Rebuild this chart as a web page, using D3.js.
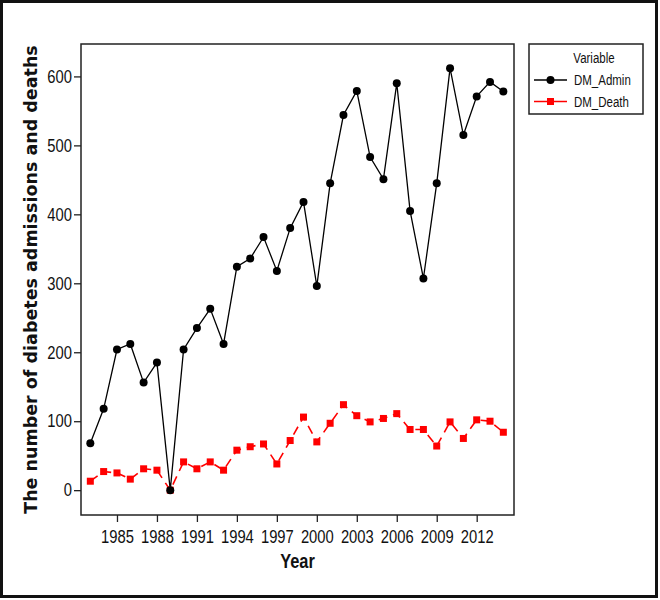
<!DOCTYPE html>
<html>
<head>
<meta charset="utf-8">
<script src="https://cdn.jsdelivr.net/npm/d3@7"></script>
<style>
  html, body { margin: 0; padding: 0; background: #fff; }
  text { fill: #111; }
</style>
</head>
<body>
<div id="chart"></div>
<script>
const WIDTH = 660
const HEIGHT = 600
const ADMIN_COLOR = '#000000'
const DEATH_COLOR = '#ff0000'
const FRAME_COLOR = '#222222'
const SANS = '"Liberation Sans", Arial, sans-serif'
const NARROW_RATIO = 0.82

// data
const YEARS = d3.range(1983, 2015)
const DM_ADMIN = [68, 118, 204, 212, 156, 185, 0, 204, 235, 263, 212, 324, 336, 367, 318, 380, 418, 296, 445,
  544, 579, 483, 451, 590, 405, 307, 445, 612, 515, 571, 592, 578]
const DM_DEATH = [13, 27, 25, 16, 31, 29, 0, 41, 31, 41, 29, 58, 63, 67, 38, 72, 106, 70, 97,
  124, 108, 99, 104, 111, 88, 88, 64, 99, 75, 102, 100, 84]
const X_TICKS = [1985, 1988, 1991, 1994, 1997, 2000, 2003, 2006, 2009, 2012]
const Y_TICKS = [0, 100, 200, 300, 400, 500, 600]
const SERIES_NAMES = ['DM_Admin', 'DM_Death']

var plot = {left: 81, top: 44, right: 514, bottom: 515}

var svg = d3.select('#chart').append('svg')
  .attr('width', WIDTH).attr('height', HEIGHT)

// squeeze text like a narrow face (no narrow font installed)
function narrow(selection, size) {
  selection
    .attr('font-family', SANS)
    .attr('font-size', size)
    .each(function() {
      var len = this.getComputedTextLength()
      d3.select(this)
        .attr('textLength', len * NARROW_RATIO)
        .attr('lengthAdjust', 'spacingAndGlyphs')
    })
}

var x = d3.scaleLinear().domain([1982.3, 2014.8]).range([plot.left, plot.right])
var y = d3.scaleLinear().domain([-36, 647]).range([plot.bottom, plot.top])

// outer frame of the picture
svg.append('rect')
  .attr('x', 1.5).attr('y', 1.5)
  .attr('width', WIDTH - 5).attr('height', HEIGHT - 5)
  .attr('fill', 'none').attr('stroke', '#111').attr('stroke-width', 3)

// axes
var xAxis = d3.axisBottom(x).tickValues(X_TICKS).tickFormat(d3.format('d')).tickSize(7).tickPadding(8)
var xAxisEl = svg.append('g').attr('transform', `translate(0, ${plot.bottom})`).call(xAxis)
xAxisEl.select('.domain').remove()
xAxisEl.selectAll('.tick text').call(narrow, 18)
xAxisEl.selectAll('.tick line').attr('stroke', FRAME_COLOR).attr('stroke-width', 1.3)

var yAxis = d3.axisLeft(y).tickValues(Y_TICKS).tickSize(7).tickPadding(2)
var yAxisEl = svg.append('g').attr('transform', `translate(${plot.left}, 0)`).call(yAxis)
yAxisEl.select('.domain').remove()
yAxisEl.selectAll('.tick text').call(narrow, 18)
yAxisEl.selectAll('.tick line').attr('stroke', FRAME_COLOR).attr('stroke-width', 1.3)

// plot box
svg.append('rect')
  .attr('x', plot.left).attr('y', plot.top)
  .attr('width', plot.right - plot.left).attr('height', plot.bottom - plot.top)
  .attr('fill', 'none').attr('stroke', FRAME_COLOR).attr('stroke-width', 1.5)

// axis titles
svg.append('text')
  .attr('transform', `translate(37, ${(plot.top + plot.bottom) / 2}) rotate(-90)`)
  .attr('text-anchor', 'middle')
  .attr('font-family', '"DejaVu Sans", sans-serif')
  .attr('font-weight', 'bold')
  .attr('font-size', 17.5)
  .text('The number of diabetes admissions and deaths')

svg.append('text')
  .attr('x', (plot.left + plot.right) / 2)
  .attr('y', 568)
  .attr('text-anchor', 'middle')
  .attr('font-weight', 'bold')
  .text('Year')
  .call(narrow, 20)

// lines
var line = d3.line()
  .x((d, i) => x(YEARS[i]))
  .y(d => y(d))

svg.append('path')
  .datum(DM_DEATH)
  .attr('d', line)
  .attr('fill', 'none')
  .attr('stroke', DEATH_COLOR)
  .attr('stroke-width', 1.6)
  .attr('stroke-dasharray', '9,6')

svg.append('path')
  .datum(DM_ADMIN)
  .attr('d', line)
  .attr('fill', 'none')
  .attr('stroke', ADMIN_COLOR)
  .attr('stroke-width', 1.3)

// markers
svg.append('g').selectAll('rect')
  .data(DM_DEATH)
  .join('rect')
  .attr('x', (d, i) => x(YEARS[i]) - 3.5)
  .attr('y', d => y(d) - 3.5)
  .attr('width', 7).attr('height', 7)
  .attr('fill', DEATH_COLOR)

svg.append('g').selectAll('circle')
  .data(DM_ADMIN)
  .join('circle')
  .attr('cx', (d, i) => x(YEARS[i]))
  .attr('cy', d => y(d))
  .attr('r', 4)
  .attr('fill', ADMIN_COLOR)

// legend
var legend = svg.append('g')
legend.append('rect')
  .attr('x', 529).attr('y', 44).attr('width', 114).attr('height', 70)
  .attr('fill', 'none').attr('stroke', FRAME_COLOR).attr('stroke-width', 1.5)

legend.append('text')
  .attr('x', 594).attr('y', 63)
  .attr('text-anchor', 'middle')
  .text('Variable')
  .call(narrow, 14)

var colors = [ADMIN_COLOR, DEATH_COLOR]
SERIES_NAMES.forEach((name, i) => {
  var cy = 80 + i * 21.5
  legend.append('line')
    .attr('x1', 534).attr('x2', 567).attr('y1', cy).attr('y2', cy)
    .attr('stroke', colors[i]).attr('stroke-width', 1.5)
  if (i === 0) {
    legend.append('circle').attr('cx', 550.5).attr('cy', cy).attr('r', 4).attr('fill', colors[i])
  } else {
    legend.append('rect').attr('x', 547).attr('y', cy - 3.5).attr('width', 7).attr('height', 7).attr('fill', colors[i])
  }
  legend.append('text')
    .attr('x', 574).attr('y', cy + 5)
    .text(name)
    .call(narrow, 14)
})
</script>
</body>
</html>
